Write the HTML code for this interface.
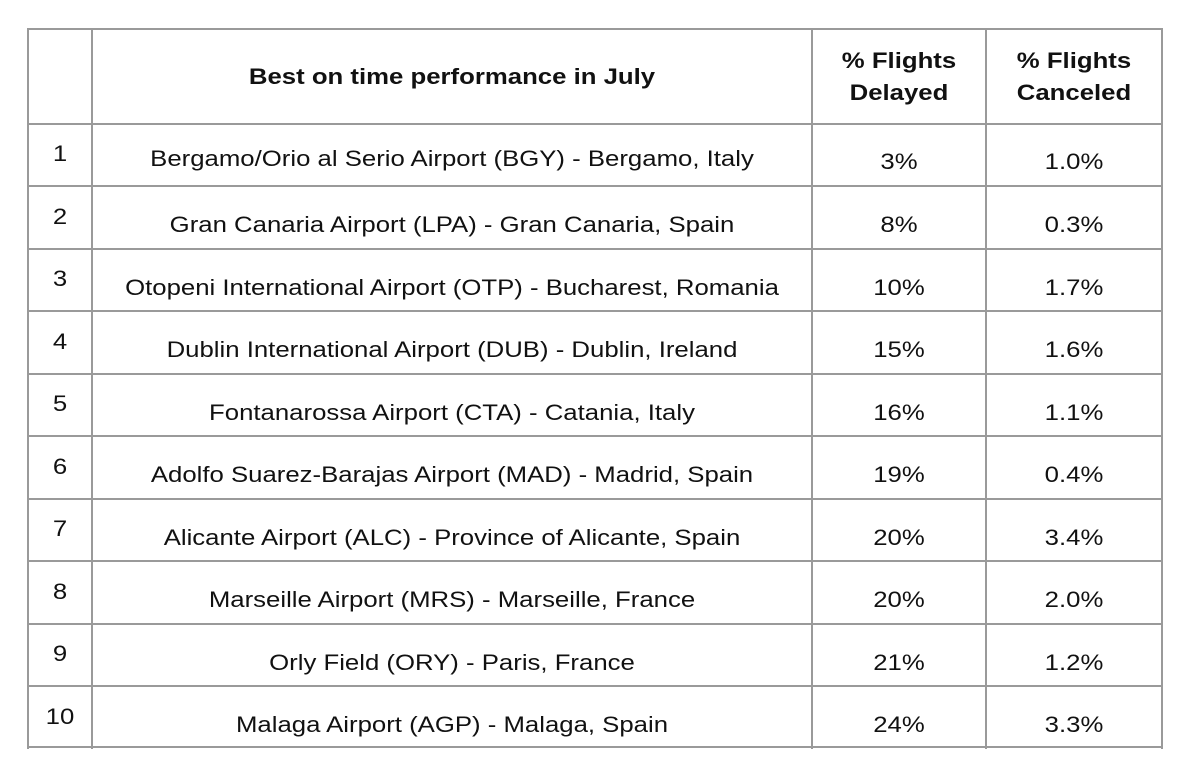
<!DOCTYPE html>
<html><head><meta charset="utf-8"><style>
body{margin:0;background:#fff;width:1194px;height:766px;position:relative;overflow:hidden;font-family:"Liberation Sans",sans-serif;color:#111}
.h{position:absolute;left:27px;width:1136px;height:2px;background:#9a9a9a}
.v{position:absolute;top:28px;height:721px;width:2px;background:#9a9a9a}
.t{position:absolute;font-size:22px;text-align:center;white-space:nowrap;transform:translateY(-50%) scaleX(1.17);transform-origin:center center}
.b{font-weight:bold;line-height:32px}
.n{left:29px;width:62px}
.a{left:93px;width:718px}
.c{left:813px;width:172px}
.d{left:987px;width:174px}
</style></head><body>
<div class="h" style="top:28px"></div>
<div class="h" style="top:123px"></div>
<div class="h" style="top:185px"></div>
<div class="h" style="top:248px"></div>
<div class="h" style="top:310px"></div>
<div class="h" style="top:373px"></div>
<div class="h" style="top:435px"></div>
<div class="h" style="top:498px"></div>
<div class="h" style="top:560px"></div>
<div class="h" style="top:623px"></div>
<div class="h" style="top:685px"></div>
<div class="h" style="top:746px"></div>
<div class="v" style="left:27px"></div>
<div class="v" style="left:91px"></div>
<div class="v" style="left:811px"></div>
<div class="v" style="left:985px"></div>
<div class="v" style="left:1161px"></div>

<div class="t b a" style="top:77px">Best on time performance in July</div>
<div class="t b c" style="top:77px">% Flights<br>Delayed</div>
<div class="t b d" style="top:77px">% Flights<br>Canceled</div>

<div class="t n" style="top:154px">1</div>
<div class="t a" style="top:159px">Bergamo/Orio al Serio Airport (BGY) - Bergamo, Italy</div>
<div class="t c" style="top:162px">3%</div>
<div class="t d" style="top:162px">1.0%</div>

<div class="t n" style="top:217px">2</div>
<div class="t a" style="top:225px">Gran Canaria Airport (LPA) - Gran Canaria, Spain</div>
<div class="t c" style="top:225px">8%</div>
<div class="t d" style="top:225px">0.3%</div>

<div class="t n" style="top:279px">3</div>
<div class="t a" style="top:288px">Otopeni International Airport (OTP) - Bucharest, Romania</div>
<div class="t c" style="top:288px">10%</div>
<div class="t d" style="top:288px">1.7%</div>

<div class="t n" style="top:342px">4</div>
<div class="t a" style="top:350px">Dublin International Airport (DUB) - Dublin, Ireland</div>
<div class="t c" style="top:350px">15%</div>
<div class="t d" style="top:350px">1.6%</div>

<div class="t n" style="top:404px">5</div>
<div class="t a" style="top:413px">Fontanarossa Airport (CTA) - Catania, Italy</div>
<div class="t c" style="top:413px">16%</div>
<div class="t d" style="top:413px">1.1%</div>

<div class="t n" style="top:467px">6</div>
<div class="t a" style="top:475px">Adolfo Suarez-Barajas Airport (MAD) - Madrid, Spain</div>
<div class="t c" style="top:475px">19%</div>
<div class="t d" style="top:475px">0.4%</div>

<div class="t n" style="top:529px">7</div>
<div class="t a" style="top:538px">Alicante Airport (ALC) - Province of Alicante, Spain</div>
<div class="t c" style="top:538px">20%</div>
<div class="t d" style="top:538px">3.4%</div>

<div class="t n" style="top:592px">8</div>
<div class="t a" style="top:600px">Marseille Airport (MRS) - Marseille, France</div>
<div class="t c" style="top:600px">20%</div>
<div class="t d" style="top:600px">2.0%</div>

<div class="t n" style="top:654px">9</div>
<div class="t a" style="top:663px">Orly Field (ORY) - Paris, France</div>
<div class="t c" style="top:663px">21%</div>
<div class="t d" style="top:663px">1.2%</div>

<div class="t n" style="top:717px">10</div>
<div class="t a" style="top:725px">Malaga Airport (AGP) - Malaga, Spain</div>
<div class="t c" style="top:725px">24%</div>
<div class="t d" style="top:725px">3.3%</div>
</body></html>
